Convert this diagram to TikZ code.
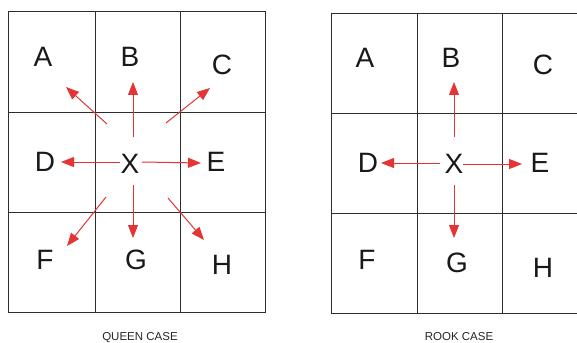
\documentclass[tikz,border=0pt]{standalone}
\usepackage{fontspec}
\setmainfont{Liberation Sans}
\usetikzlibrary{arrows.meta}
\definecolor{arr}{RGB}{228,52,52}
\definecolor{gridc}{RGB}{45,45,45}
\begin{document}
\begin{tikzpicture}[x=1pt,y=-1pt,
  gridline/.style={draw=gridc,line width=1pt},
  letter/.style={font=\fontsize{28}{30}\selectfont,text=black!90,inner sep=0pt},
  caption/.style={font=\fontsize{11.5}{13}\selectfont,text=black!85,inner sep=0pt,anchor=base},
  mv/.style={draw=arr,line width=1pt,-{Triangle[length=13pt,width=10pt]}}]
\useasboundingbox (0,0) rectangle (577,342);
\fill[white] (0,0) rectangle (577,342);
% left grid
\draw[gridline] (8,12) rectangle (265,312);
\draw[gridline] (95,12) -- (95,312) (180,12) -- (180,312)
  (8,112) -- (265,112) (8,212) -- (265,212);
% right grid
\draw[gridline] (590,14) -- (331,14) -- (331,313) -- (590,313);
\draw[gridline] (417,14) -- (417,313) (502,14) -- (502,313)
  (331,113) -- (590,113) (331,213) -- (590,213);
% left letters
\node[letter] (qA) at (43,57) {A};
\node[letter] (qB) at (130,57) {B};
\node[letter] (qC) at (222,65) {C};
\node[letter] (qD) at (45,162) {D};
\node[letter] (qX) at (130,164) {X};
\node[letter] (qE) at (216,162) {E};
\node[letter] (qF) at (45,260) {F};
\node[letter] (qG) at (136,260) {G};
\node[letter] (qH) at (222,265) {H};
% right letters
\node[letter] (rA) at (365,58) {A};
\node[letter] (rB) at (451,58) {B};
\node[letter] (rC) at (543,65) {C};
\node[letter] (rD) at (368,163) {D};
\node[letter] (rX) at (454,164) {X};
\node[letter] (rE) at (540,163) {E};
\node[letter] (rF) at (367,260) {F};
\node[letter] (rG) at (457,263) {G};
\node[letter] (rH) at (543,268) {H};
% captions
\node[caption] (qcap) at (140,340) {QUEEN CASE};
\node[caption] (rcap) at (459,340) {ROOK CASE};
% queen arrow ends
\coordinate (qa1) at (107,124); \coordinate (qa2) at (66,87);
\coordinate (qb1) at (133,137); \coordinate (qb2) at (133,82);
\coordinate (qc1) at (166,123); \coordinate (qc2) at (210,88);
\coordinate (qd1) at (120,162); \coordinate (qd2) at (61,162);
\coordinate (qe1) at (142,162); \coordinate (qe2) at (201,163);
\coordinate (qf1) at (106,197); \coordinate (qf2) at (67,246);
\coordinate (qg1) at (133,185); \coordinate (qg2) at (133,238);
\coordinate (qh1) at (168,198); \coordinate (qh2) at (204,240);
\foreach \k in {a,b,c,d,e,f,g,h} \draw[mv] (q\k1) -- (q\k2);
% rook arrow ends
\coordinate (rb1) at (454,137); \coordinate (rb2) at (454,82);
\coordinate (rd1) at (440,163); \coordinate (rd2) at (381,163);
\coordinate (re1) at (463,164); \coordinate (re2) at (522,164);
\coordinate (rg1) at (454,185); \coordinate (rg2) at (454,238);
\foreach \k in {b,d,e,g} \draw[mv] (r\k1) -- (r\k2);
\end{tikzpicture}
\end{document}
